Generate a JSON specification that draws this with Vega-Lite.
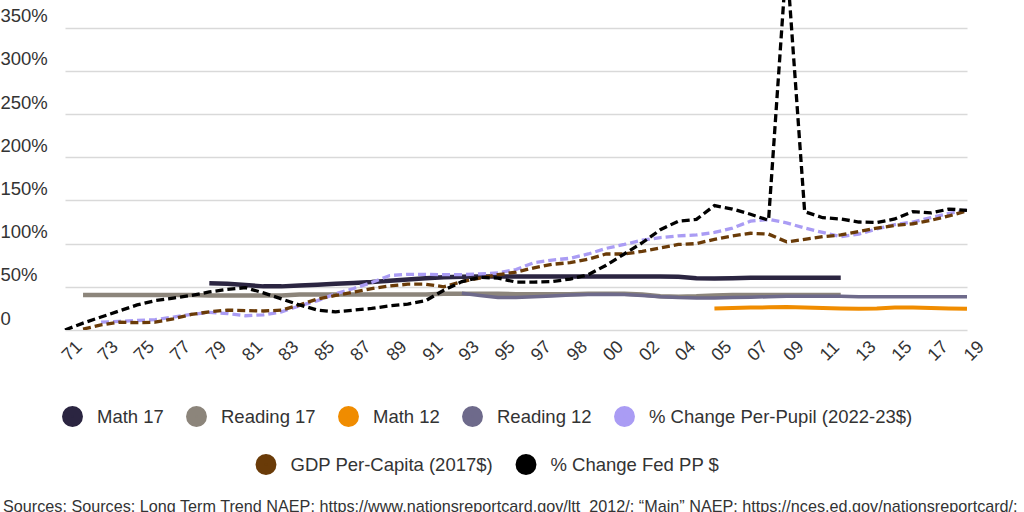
{
  "$schema": "https://vega.github.io/schema/vega-lite/v6.json",
  "width": 975,
  "height": 330,
  "autosize": {"type": "none"},
  "padding": {"left": 0, "top": 0, "right": 49, "bottom": 182},
  "background": "white",
  "title": {
    "text": "Sources: Sources: Long Term Trend NAEP: https://www.nationsreportcard.gov/ltt_2012/; \u201cMain\u201d NAEP: https://nces.ed.gov/nationsreportcard/;",
    "orient": "bottom",
    "anchor": "start",
    "frame": "group",
    "offset": 6,
    "baseline": "top",
    "dx": 3,
    "font": "Liberation Sans",
    "fontSize": 16.2,
    "fontWeight": "normal",
    "color": "#333333"
  },
  "data": {
    "values": [
      {"yr": "1971", "fed": 0.0},
      {"yr": "1972", "fed": 0.08, "gdp": 0.01, "r17": 0.405},
      {"yr": "1973", "fed": 0.15, "pp": 0.09, "gdp": 0.06, "r17": 0.405},
      {"yr": "1974", "fed": 0.22, "pp": 0.10, "gdp": 0.09, "r17": 0.405},
      {"yr": "1975", "fed": 0.29, "pp": 0.11, "gdp": 0.085, "r17": 0.405},
      {"yr": "1976", "fed": 0.34, "pp": 0.12, "gdp": 0.09, "r17": 0.405},
      {"yr": "1977", "fed": 0.37, "pp": 0.15, "gdp": 0.13, "r17": 0.405},
      {"yr": "1978", "fed": 0.40, "pp": 0.18, "gdp": 0.18, "r17": 0.405},
      {"yr": "1979", "fed": 0.44, "pp": 0.205, "gdp": 0.21, "r17": 0.40, "m17": 0.54},
      {"yr": "1980", "fed": 0.47, "pp": 0.19, "gdp": 0.23, "r17": 0.40, "m17": 0.535},
      {"yr": "1981", "fed": 0.49, "pp": 0.165, "gdp": 0.225, "r17": 0.40, "m17": 0.52},
      {"yr": "1982", "fed": 0.43, "pp": 0.175, "gdp": 0.22, "r17": 0.40, "m17": 0.505},
      {"yr": "1983", "fed": 0.36, "pp": 0.21, "gdp": 0.23, "r17": 0.40, "m17": 0.505},
      {"yr": "1984", "fed": 0.29, "pp": 0.28, "gdp": 0.29, "r17": 0.41, "m17": 0.515},
      {"yr": "1985", "fed": 0.23, "pp": 0.34, "gdp": 0.36, "r17": 0.41, "m17": 0.525},
      {"yr": "1986", "fed": 0.21, "pp": 0.42, "gdp": 0.40, "r17": 0.41, "m17": 0.535},
      {"yr": "1987", "fed": 0.23, "pp": 0.48, "gdp": 0.44, "r17": 0.41, "m17": 0.545},
      {"yr": "1988", "fed": 0.25, "pp": 0.55, "gdp": 0.48, "r17": 0.41, "m17": 0.555},
      {"yr": "1989", "fed": 0.28, "pp": 0.63, "gdp": 0.51, "r17": 0.41, "m17": 0.57},
      {"yr": "1990", "fed": 0.30, "pp": 0.645, "gdp": 0.53, "r17": 0.41, "m17": 0.585},
      {"yr": "1991", "fed": 0.34, "pp": 0.645, "gdp": 0.53, "r17": 0.41, "m17": 0.60},
      {"yr": "1992", "fed": 0.46, "pp": 0.64, "gdp": 0.50, "r17": 0.42, "m17": 0.61},
      {"yr": "1993", "fed": 0.56, "pp": 0.64, "gdp": 0.56, "r17": 0.42, "m17": 0.615, "r12": 0.425},
      {"yr": "1994", "fed": 0.61, "pp": 0.65, "gdp": 0.60, "r17": 0.42, "m17": 0.62, "r12": 0.40},
      {"yr": "1995", "fed": 0.60, "pp": 0.66, "gdp": 0.64, "r17": 0.42, "m17": 0.62, "r12": 0.375},
      {"yr": "1996", "fed": 0.555, "pp": 0.70, "gdp": 0.67, "r17": 0.415, "m17": 0.62, "r12": 0.375},
      {"yr": "1997", "fed": 0.555, "pp": 0.78, "gdp": 0.72, "r17": 0.415, "m17": 0.62, "r12": 0.385},
      {"yr": "1997b", "fed": 0.56, "pp": 0.81, "gdp": 0.76, "r17": 0.415, "m17": 0.62, "r12": 0.395},
      {"yr": "1998", "fed": 0.59, "pp": 0.83, "gdp": 0.78, "r17": 0.415, "m17": 0.62, "r12": 0.405},
      {"yr": "1999", "fed": 0.64, "pp": 0.88, "gdp": 0.82, "r17": 0.42, "m17": 0.62, "r12": 0.41},
      {"yr": "2000", "fed": 0.75, "pp": 0.945, "gdp": 0.88, "r17": 0.42, "m17": 0.62, "r12": 0.415},
      {"yr": "2001", "fed": 0.88, "pp": 0.99, "gdp": 0.88, "r17": 0.42, "m17": 0.62, "r12": 0.41},
      {"yr": "2002", "fed": 1.01, "pp": 1.04, "gdp": 0.91, "r17": 0.41, "m17": 0.62, "r12": 0.40},
      {"yr": "2003", "fed": 1.16, "pp": 1.07, "gdp": 0.95, "r17": 0.39, "m17": 0.62, "r12": 0.385},
      {"yr": "2004", "fed": 1.26, "pp": 1.09, "gdp": 0.99, "r17": 0.385, "m17": 0.615, "r12": 0.375},
      {"yr": "2004b", "fed": 1.28, "pp": 1.10, "gdp": 1.00, "r17": 0.39, "m17": 0.60, "r12": 0.37},
      {"yr": "2005", "fed": 1.44, "pp": 1.13, "gdp": 1.05, "r17": 0.40, "m17": 0.595, "r12": 0.37, "m12": 0.25},
      {"yr": "2006", "fed": 1.40, "pp": 1.18, "gdp": 1.09, "r17": 0.405, "m17": 0.60, "r12": 0.375, "m12": 0.255},
      {"yr": "2007", "fed": 1.34, "pp": 1.26, "gdp": 1.12, "r17": 0.405, "m17": 0.605, "r12": 0.38, "m12": 0.26},
      {"yr": "2008", "fed": 1.27, "pp": 1.28, "gdp": 1.11, "r17": 0.405, "m17": 0.605, "r12": 0.385, "m12": 0.262},
      {"yr": "2009", "fed": 4.3, "pp": 1.24, "gdp": 1.02, "r17": 0.405, "m17": 0.605, "r12": 0.39, "m12": 0.265},
      {"yr": "2010", "fed": 1.37, "pp": 1.18, "gdp": 1.05, "r17": 0.405, "m17": 0.605, "r12": 0.39, "m12": 0.26},
      {"yr": "2011", "fed": 1.30, "pp": 1.13, "gdp": 1.08, "r17": 0.405, "m17": 0.605, "r12": 0.39, "m12": 0.255},
      {"yr": "2012", "fed": 1.285, "pp": 1.08, "gdp": 1.10, "r17": 0.405, "m17": 0.605, "r12": 0.39, "m12": 0.25},
      {"yr": "2013", "fed": 1.25, "pp": 1.11, "gdp": 1.14, "r12": 0.385, "m12": 0.245},
      {"yr": "2014", "fed": 1.245, "pp": 1.17, "gdp": 1.18, "r12": 0.385, "m12": 0.25},
      {"yr": "2015", "fed": 1.285, "pp": 1.22, "gdp": 1.21, "r12": 0.385, "m12": 0.26},
      {"yr": "2016", "fed": 1.37, "pp": 1.25, "gdp": 1.23, "r12": 0.385, "m12": 0.26},
      {"yr": "2017", "fed": 1.355, "pp": 1.30, "gdp": 1.27, "r12": 0.385, "m12": 0.255},
      {"yr": "2018", "fed": 1.40, "pp": 1.35, "gdp": 1.32, "r12": 0.385, "m12": 0.25},
      {"yr": "2019", "fed": 1.385, "pp": 1.39, "gdp": 1.38, "r12": 0.385, "m12": 0.245}
    ]
  },
  "transform": [
    {"fold": ["m17", "r17", "m12", "r12", "pp", "gdp", "fed"], "as": ["series", "v"]},
    {"filter": "isValid(datum.v)"}
  ],
  "encoding": {
    "x": {
      "field": "yr",
      "type": "ordinal",
      "scale": {
        "type": "point",
        "padding": 0,
        "range": [65, 967],
        "domain": ["1971","1972","1973","1974","1975","1976","1977","1978","1979","1980","1981","1982","1983","1984","1985","1986","1987","1988","1989","1990","1991","1992","1993","1994","1995","1996","1997","1997b","1998","1999","2000","2001","2002","2003","2004","2004b","2005","2006","2007","2008","2009","2010","2011","2012","2013","2014","2015","2016","2017","2018","2019"]
      },
      "axis": {
        "title": null,
        "values": ["1971","1973","1975","1977","1979","1981","1983","1985","1987","1989","1991","1993","1995","1997","1998","2000","2002","2004","2005","2007","2009","2011","2013","2015","2017","2019"],
        "labelExpr": "substring(datum.label, 2, 4)",
        "labelAngle": -45,
        "labelAlign": "center",
        "labelBaseline": "middle",
        "labelPadding": 21,
        "labelOffset": 7,
        "labelOverlap": false,
        "labelFont": "Liberation Sans",
        "labelFontSize": 18,
        "labelColor": "#333333",
        "domain": false,
        "ticks": false,
        "grid": false
      }
    },
    "y": {
      "field": "v",
      "type": "quantitative",
      "scale": {"domain": [0, 3.82], "nice": false, "zero": true},
      "axis": {
        "title": null,
        "values": [0, 0.5, 1, 1.5, 2, 2.5, 3, 3.5],
        "labelExpr": "datum.value == 0 ? '0' : format(datum.value, '.0%')",
        "labelAlign": "left",
        "labelBaseline": "alphabetic",
        "labelPadding": 0,
        "labelOffset": -6,
        "labelFont": "Liberation Sans",
        "labelFontSize": 18.5,
        "labelColor": "#333333",
        "ticks": false,
        "tickSize": 0,
        "domain": false,
        "grid": true,
        "gridColor": "#d9d9d9",
        "gridWidth": 1.5
      }
    }
  },
  "layer": [
    {
      "encoding": {
        "color": {
          "field": "series",
          "type": "nominal",
          "scale": {
            "domain": ["m17", "r17", "m12", "r12", "pp"],
            "range": ["#2b2541", "#8c857b", "#f08c00", "#6e6a8b", "#aa9cf4"]
          },
          "legend": {
            "title": null,
            "orient": "bottom",
            "direction": "horizontal",
            "offset": 41,
            "padding": 0,
            "symbolType": "circle",
            "symbolSize": 80,
            "symbolStrokeWidth": 12,
            "symbolDash": [],
            "symbolOpacity": 1,
            "labelFont": "Liberation Sans",
            "labelFontSize": 18.5,
            "labelColor": "#333333",
            "labelOffset": 14,
            "labelLimit": 0,
            "columnPadding": 4,
            "labelExpr": "datum.label == 'm17' ? 'Math 17' : datum.label == 'r17' ? 'Reading 17' : datum.label == 'm12' ? 'Math 12' : datum.label == 'r12' ? 'Reading 12' : '% Change Per-Pupil (2022-23$)'",
            "encode": {
              "symbols": {
                "update": {
                  "fill": {"signal": "datum.value == 'm17' ? '#2b2541' : datum.value == 'r17' ? '#8c857b' : datum.value == 'm12' ? '#f08c00' : datum.value == 'r12' ? '#6e6a8b' : '#aa9cf4'"},
                  "fillOpacity": {"value": 1}
                }
              }
            }
          }
        }
      },
      "layer": [
        {"transform": [{"filter": "datum.series == 'r17'"}], "mark": {"type": "line", "strokeWidth": 4.5, "clip": true}},
        {"transform": [{"filter": "datum.series == 'm17'"}], "mark": {"type": "line", "strokeWidth": 4.5, "clip": true}},
        {"transform": [{"filter": "datum.series == 'm12'"}], "mark": {"type": "line", "strokeWidth": 4, "clip": true}},
        {"transform": [{"filter": "datum.series == 'r12'"}], "mark": {"type": "line", "strokeWidth": 3.5, "clip": true}},
        {"transform": [{"filter": "datum.series == 'pp'"}], "mark": {"type": "line", "strokeWidth": 3.3, "strokeDash": [8, 4], "clip": true}}
      ]
    },
    {
      "encoding": {
        "color": {
          "field": "series",
          "type": "nominal",
          "scale": {
            "domain": ["gdp", "fed"],
            "range": ["#6a3b08", "#000000"]
          },
          "legend": {
            "title": null,
            "orient": "bottom",
            "direction": "horizontal",
            "offset": 41,
            "padding": 0,
            "symbolType": "circle",
            "symbolSize": 80,
            "symbolStrokeWidth": 12,
            "symbolDash": [],
            "symbolOpacity": 1,
            "labelFont": "Liberation Sans",
            "labelFontSize": 18.5,
            "labelColor": "#333333",
            "labelOffset": 14,
            "labelLimit": 0,
            "columnPadding": 4,
            "labelExpr": "datum.label == 'gdp' ? 'GDP Per-Capita (2017$)' : '% Change Fed PP $'",
            "encode": {
              "symbols": {
                "update": {
                  "fill": {"signal": "datum.value == 'gdp' ? '#6a3b08' : '#000000'"},
                  "fillOpacity": {"value": 1}
                }
              }
            }
          }
        }
      },
      "layer": [
        {"transform": [{"filter": "datum.series == 'gdp'"}], "mark": {"type": "line", "strokeWidth": 3.3, "strokeDash": [8, 4], "clip": true}},
        {"transform": [{"filter": "datum.series == 'fed'"}], "mark": {"type": "line", "strokeWidth": 3.3, "strokeDash": [8, 4], "clip": true}}
      ]
    }
  ],
  "resolve": {"scale": {"color": "independent"}},
  "config": {
    "view": {"stroke": null},
    "legend": {
      "layout": {
        "bottom": {"anchor": "middle", "direction": "vertical", "center": true, "margin": 9}
      }
    }
  }
}
